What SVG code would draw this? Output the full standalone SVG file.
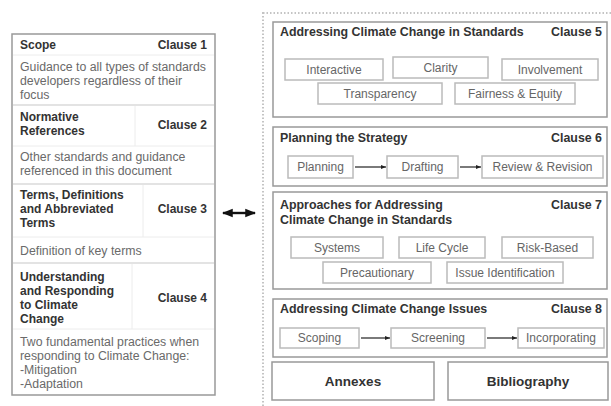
<svg xmlns="http://www.w3.org/2000/svg" width="611" height="406" viewBox="0 0 611 406">
<defs>
<marker id="ah" viewBox="0 0 10 10" refX="10" refY="5" markerWidth="5" markerHeight="5" orient="auto-start-reverse" markerUnits="userSpaceOnUse">
<path d="M0,1 L10,5 L0,9 Z" fill="#222"/>
</marker>
<marker id="ah2" viewBox="0 0 10 10" refX="9" refY="5" markerWidth="4.5" markerHeight="4.5" orient="auto-start-reverse" markerUnits="strokeWidth">
<path d="M0,1 L10,5 L0,9 Z" fill="#111"/>
</marker>
<style>
.hd{font-family:"Liberation Sans",Arial,sans-serif;font-size:12px;font-weight:bold;fill:#333}
.hr{font-size:12.4px}
.bd{font-family:"Liberation Sans",Arial,sans-serif;font-size:12.3px;fill:#6a6a6a}
.pl{font-family:"Liberation Sans",Arial,sans-serif;font-size:12px;fill:#666;text-anchor:middle}
.big{font-family:"Liberation Sans",Arial,sans-serif;font-size:13.5px;font-weight:bold;fill:#333;text-anchor:middle}
.r{text-anchor:end}
.box{fill:#fff;stroke:#999;stroke-width:1.5}
.pill{fill:#fff;stroke:#bbb;stroke-width:1.5}
.div{stroke:#c8c8c8;stroke-width:1.2}
.fnt{stroke:#ececec;stroke-width:1}
.flow{stroke:#222;stroke-width:1.2;fill:none}
</style>
</defs>
<rect width="611" height="406" fill="#fff"/>

<g id="clauses-1-4">
<rect class="box" x="12" y="34" width="203" height="361" stroke="#8a8a8a"/>
<line class="fnt" x1="13" y1="55" x2="214" y2="55"/>
<line class="fnt" x1="13" y1="146" x2="214" y2="146"/>
<line class="fnt" x1="135" y1="106" x2="135" y2="146"/>
<line class="fnt" x1="13" y1="237" x2="214" y2="237"/>
<line class="fnt" x1="143" y1="185" x2="143" y2="237"/>
<line class="fnt" x1="13" y1="329" x2="214" y2="329"/>
<line class="fnt" x1="132" y1="264" x2="132" y2="329"/>
<line class="div" x1="13" y1="105" x2="214" y2="105"/>
<line class="div" x1="13" y1="184" x2="214" y2="184"/>
<line class="div" x1="13" y1="263" x2="214" y2="263"/>

<text class="hd" x="20" y="49">Scope</text>
<text class="hd r" x="207" y="49">Clause 1</text>
<text class="bd" x="20" y="71">Guidance to all types of standards</text>
<text class="bd" x="20" y="85">developers regardless of their</text>
<text class="bd" x="20" y="99">focus</text>

<text class="hd" x="20" y="121">Normative</text>
<text class="hd" x="20" y="135">References</text>
<text class="hd r" x="207" y="129">Clause 2</text>
<text class="bd" x="20" y="161">Other standards and guidance</text>
<text class="bd" x="20" y="175">referenced in this document</text>

<text class="hd" x="20" y="199">Terms, Definitions</text>
<text class="hd" x="20" y="213">and Abbreviated</text>
<text class="hd" x="20" y="227">Terms</text>
<text class="hd r" x="207" y="213">Clause 3</text>
<text class="bd" x="20" y="255">Definition of key terms</text>

<text class="hd" x="20" y="281">Understanding</text>
<text class="hd" x="20" y="295">and Responding</text>
<text class="hd" x="20" y="309">to Climate</text>
<text class="hd" x="20" y="323">Change</text>
<text class="hd r" x="207" y="302">Clause 4</text>
<text class="bd" x="20" y="346">Two fundamental practices when</text>
<text class="bd" x="20" y="360">responding to Climate Change:</text>
<text class="bd" x="20" y="374">-Mitigation</text>
<text class="bd" x="20" y="388">-Adaptation</text>
</g>

<g id="frame">
<rect x="263" y="13" width="360" height="400" fill="none" stroke="#c4c4c4" stroke-width="2" stroke-dasharray="1.5,2"/>
</g>

<g id="clause-5">
<rect class="box" x="273" y="22" width="334" height="95"/>
<text class="hd hr" x="280" y="36">Addressing Climate Change in Standards</text>
<text class="hd hr r" x="602" y="36">Clause 5</text>
<rect class="pill" x="285" y="59" width="98" height="21"/>
<text class="pl" x="334" y="74">Interactive</text>
<rect class="pill" x="393" y="57" width="95" height="21"/>
<text class="pl" x="440.5" y="72">Clarity</text>
<rect class="pill" x="502" y="59" width="96" height="21"/>
<text class="pl" x="550" y="74">Involvement</text>
<rect class="pill" x="318" y="83" width="124" height="21"/>
<text class="pl" x="380" y="98">Transparency</text>
<rect class="pill" x="455" y="83" width="120" height="21"/>
<text class="pl" x="515" y="98">Fairness &amp; Equity</text>
</g>

<g id="clause-6">
<rect class="box" x="273" y="127" width="334" height="59"/>
<text class="hd hr" x="280" y="142">Planning the Strategy</text>
<text class="hd hr r" x="602" y="142">Clause 6</text>
<rect class="pill" x="288" y="156" width="65" height="22"/>
<text class="pl" x="320.5" y="171">Planning</text>
<rect class="pill" x="387" y="156" width="71" height="22"/>
<text class="pl" x="422.5" y="171">Drafting</text>
<rect class="pill" x="482" y="156" width="121" height="22"/>
<text class="pl" x="542.5" y="171">Review &amp; Revision</text>
</g>

<g id="clause-7">
<rect class="box" x="273" y="192" width="334" height="97"/>
<text class="hd hr" x="280" y="209">Approaches for Addressing</text>
<text class="hd hr" x="280" y="224">Climate Change in Standards</text>
<text class="hd hr r" x="602" y="209">Clause 7</text>
<rect class="pill" x="291" y="237" width="92" height="21"/>
<text class="pl" x="337" y="252">Systems</text>
<rect class="pill" x="399" y="237" width="86" height="21"/>
<text class="pl" x="442" y="252">Life Cycle</text>
<rect class="pill" x="502" y="237" width="91" height="21"/>
<text class="pl" x="547.5" y="252">Risk-Based</text>
<rect class="pill" x="323" y="262" width="108" height="21"/>
<text class="pl" x="377" y="277">Precautionary</text>
<rect class="pill" x="447" y="262" width="116" height="21"/>
<text class="pl" x="505" y="277">Issue Identification</text>
</g>

<g id="clause-8">
<rect class="box" x="273" y="299" width="334" height="58"/>
<text class="hd hr" x="280" y="313">Addressing Climate Change Issues</text>
<text class="hd hr r" x="602" y="313">Clause 8</text>
<rect class="pill" x="280" y="328" width="79" height="20"/>
<text class="pl" x="319.5" y="342">Scoping</text>
<rect class="pill" x="391" y="328" width="94" height="20"/>
<text class="pl" x="438" y="342">Screening</text>
<rect class="pill" x="518" y="328" width="86" height="20"/>
<text class="pl" x="561" y="342">Incorporating</text>
</g>

<g id="annexes">
<rect class="box" x="272" y="362" width="162" height="38"/>
<text class="big" x="353" y="386">Annexes</text>
</g>
<g id="bibliography">
<rect class="box" x="448" y="362" width="160" height="38"/>
<text class="big" x="528" y="386">Bibliography</text>
</g>

<g id="connectors">
<line x1="223" y1="213" x2="255" y2="213" stroke="#111" stroke-width="2.4" marker-start="url(#ah2)" marker-end="url(#ah2)"/>
<line class="flow" x1="355" y1="167" x2="386" y2="167" marker-end="url(#ah)"/>
<line class="flow" x1="460" y1="167" x2="481" y2="167" marker-end="url(#ah)"/>
<line class="flow" x1="361" y1="338" x2="390" y2="338" marker-end="url(#ah)"/>
<line class="flow" x1="487" y1="338" x2="517" y2="338" marker-end="url(#ah)"/>
</g>
</svg>
